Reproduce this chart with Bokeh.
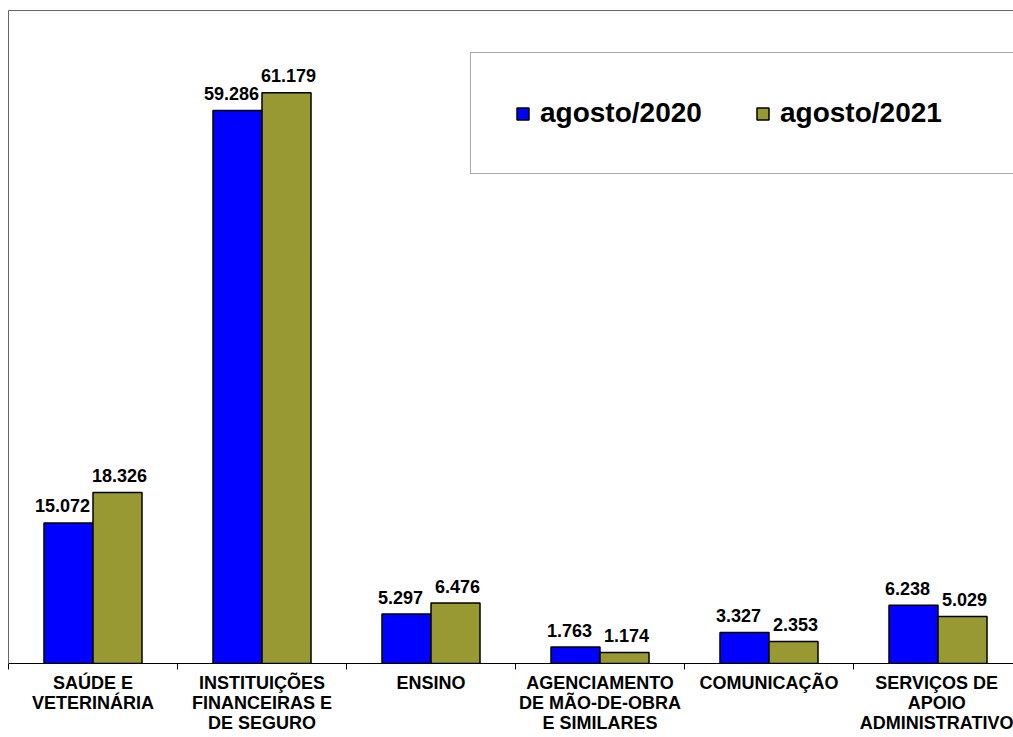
from bokeh.plotting import figure
from bokeh.models import (Range1d, FixedTicker, LinearAxis, ColumnDataSource, Legend, LegendItem)
from bokeh.transform import dodge
from bokeh.core.properties import value
from bokeh.embed import file_html
from bokeh.resources import INLINE

categories = ["SAÚDE E\nVETERINÁRIA", "INSTITUIÇÕES\nFINANCEIRAS E\nDE SEGURO", "ENSINO",
              "AGENCIAMENTO\nDE MÃO-DE-OBRA\nE SIMILARES", "COMUNICAÇÃO",
              "SERVIÇOS DE\nAPOIO\nADMINISTRATIVO"]
series_names = ["agosto/2020", "agosto/2021"]
ago2020 = [15072, 59286, 5297, 1763, 3327, 6238]
ago2021 = [18326, 61179, 6476, 1174, 2353, 5029]

FONT = "Liberation Sans"
BLUE = "#0000FF"
OLIVE = "#999933"

def fmt(v):
    return f"{v:,}".replace(",", ".")

idx = list(range(len(categories)))
src = ColumnDataSource(dict(
    x=idx, a=ago2020, b=ago2021,
    la=[fmt(v) for v in ago2020], lb=[fmt(v) for v in ago2021],
))

W, H = 1013, 737
left, top, bottom = 8, 10, 74
cat_px = 169
frame_w = W - left
x_end = -0.5 + frame_w / cat_px

p = figure(width=W, height=H, output_backend="svg", toolbar_location=None,
           x_range=Range1d(-0.5, x_end), y_range=Range1d(0, 70000),
           min_border_left=left, min_border_top=top, min_border_bottom=bottom,
           min_border_right=0, x_axis_location=None, y_axis_location=None)
p.outline_line_color = None
p.grid.visible = False
p.background_fill_color = "white"
p.border_fill_color = "white"

bw = 0.29
r1 = p.vbar(x=dodge("x", -bw / 2, range=p.x_range), top="a", width=bw, source=src,
            fill_color=BLUE, line_color="black", line_width=1.5)
r2 = p.vbar(x=dodge("x", bw / 2, range=p.x_range), top="b", width=bw, source=src,
            fill_color=OLIVE, line_color="black", line_width=1.5)

p.text(x=dodge("x", -bw / 2, range=p.x_range), y="a", text="la", source=src,
       text_font=value(FONT), text_font_style="bold", text_font_size="18px",
       text_align="center", text_baseline="alphabetic", x_offset=-6, y_offset=-17,
       text_color="black")
p.text(x=dodge("x", bw / 2, range=p.x_range), y="b", text="lb", source=src,
       text_font=value(FONT), text_font_style="bold", text_font_size="18px",
       text_align="center", text_baseline="alphabetic", x_offset=2, y_offset=-17,
       text_color="black")

# bottom category axis
xa = LinearAxis(ticker=FixedTicker(ticks=idx, minor_ticks=[i - 0.5 for i in idx] + [len(idx) - 0.5]))
xa.major_label_overrides = {i: c for i, c in zip(idx, categories)}
xa.major_label_text_font = FONT
xa.major_label_text_font_style = "bold"
xa.major_label_text_font_size = "18px"
xa.major_label_text_line_height = 1.02
xa.major_label_text_color = "black"
xa.major_label_standoff = 3
xa.major_tick_line_color = None
xa.major_tick_in = 0
xa.major_tick_out = 0
xa.minor_tick_line_color = "black"
xa.minor_tick_in = 0
xa.minor_tick_out = 6
xa.axis_line_color = "black"
xa.axis_line_width = 1
p.add_layout(xa, "below")

# left & top frame lines
for loc in ("left", "above"):
    ax = LinearAxis(ticker=FixedTicker(ticks=[]))
    ax.major_label_text_font_size = "0px"
    ax.major_label_standoff = 0
    ax.major_tick_in = 0
    ax.major_tick_out = 0
    ax.minor_tick_in = 0
    ax.minor_tick_out = 0
    ax.axis_line_color = "#666666"
    p.add_layout(ax, loc)

legend = Legend(items=[LegendItem(label=series_names[0], renderers=[r1]),
                       LegendItem(label=series_names[1], renderers=[r2])],
                orientation="horizontal", location=(462, 489))
legend.label_text_font = FONT
legend.label_text_font_style = "bold"
legend.label_text_font_size = "28px"
legend.label_text_line_height = 1.0
legend.label_text_color = "black"
legend.glyph_width = 15
legend.glyph_height = 15
legend.label_standoff = 10
legend.spacing = 15
legend.padding = 44
legend.margin = 0
legend.label_width = 200
legend.border_line_color = "#555555"
legend.border_line_width = 1
legend.background_fill_color = "white"
legend.background_fill_alpha = 1
p.add_layout(legend, "center")

open("out.html", "w").write(file_html(p, INLINE))
